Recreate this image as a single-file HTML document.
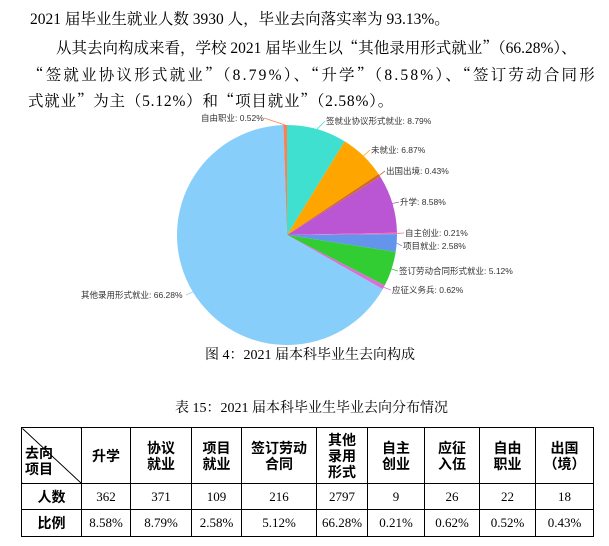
<!DOCTYPE html>
<html><head><meta charset="utf-8"><style>
body{margin:0;background:#fff;width:609px;height:546px;overflow:hidden;font-family:"Liberation Serif","Noto Serif CJK SC",serif;}
.t{position:absolute;font-size:15.5px;color:#000;white-space:nowrap;}
.q{font-family:"Noto Serif CJK SC",serif;}
svg{position:absolute;left:0;top:0}
table{position:absolute;left:21px;top:427px;border-collapse:collapse;font-size:13px;}
td{border:1px solid #000;text-align:center;padding:0;font-family:"Liberation Serif","Noto Serif CJK SC",serif;}
.h td{font-weight:bold;font-family:"Liberation Sans","Noto Sans CJK SC",sans-serif;font-size:14px;line-height:16px}
td.b{font-weight:bold;font-family:"Liberation Sans","Noto Sans CJK SC",sans-serif;font-size:14px}
</style></head><body>
<div class="t" style="left:30px;top:7px">2021 届毕业生就业人数 3930 人，毕业去向落实率为 93.13%。</div>
<div class="t" style="left:56px;top:36px">从其去向构成来看，学校 2021 届毕业生以<span class="q">“</span>其他录用形式就业<span class="q">”</span>（66.28%）、</div>
<div class="t" style="left:28px;top:63px;letter-spacing:2.2px"><span class="q">“</span>签就业协议形式就业<span class="q">”</span>（8.79%）、<span class="q">“</span>升学<span class="q">”</span>（8.58%）、<span class="q">“</span>签订劳动合同形</div>
<div class="t" style="left:28px;top:89px;letter-spacing:0.8px">式就业<span class="q">”</span>为主（5.12%）和<span class="q">“</span>项目就业<span class="q">”</span>（2.58%）。</div>
<svg id="s" width="609" height="546" font-family="Liberation Sans,Noto Sans CJK SC,sans-serif" font-size="8.5" fill="#333"></svg>
<div class="t" style="left:205px;top:344px;font-size:14px">图 4：2021 届本科毕业生去向构成</div>
<div class="t" style="left:175px;top:397px;font-size:14px">表 15：2021 届本科毕业生毕业去向分布情况</div>
<table>
<tr class="h" style="height:56px"><td style="width:59px;position:relative;background:linear-gradient(to top right,transparent 49.2%,#000 49.6%,#000 50.4%,transparent 50.8%)"><div style="text-align:left;padding-left:3px;padding-top:10px">去向<br>项目</div></td><td style="width:48px">升学</td><td style="width:60px">协议<br>就业</td><td style="width:49px">项目<br>就业</td><td style="width:74px">签订劳动<br>合同</td><td style="width:50px">其他<br>录用<br>形式</td><td style="width:56px">自主<br>创业</td><td style="width:54px">应征<br>入伍</td><td style="width:55px">自由<br>职业</td><td style="width:57px">出国<br>（境）</td></tr>
<tr style="height:26px"><td class="b">人数</td><td>362</td><td>371</td><td>109</td><td>216</td><td>2797</td><td>9</td><td>26</td><td>22</td><td>18</td></tr>
<tr style="height:27px"><td class="b">比例</td><td>8.58%</td><td>8.79%</td><td>2.58%</td><td>5.12%</td><td>66.28%</td><td>0.21%</td><td>0.62%</td><td>0.52%</td><td>0.43%</td></tr>
</table>
<script>
var s=document.getElementById('s'),cx=287,cy=235,r=110;
var d=[[8.79,'#40e0d0'],[6.87,'#ffa500'],[0.43,'#d2691e'],[8.58,'#ba55d3'],[0.21,'#ff69b4'],[2.58,'#6495ed'],[5.12,'#32cd32'],[0.62,'#da70d6'],[66.28,'#87cefa'],[0.52,'#ff7f50']];
var L=[[326,124,'签就业协议形式就业: 8.79%'],[371,153,'未就业: 6.87%'],[386,174,'出国出境: 0.43%'],[400,205,'升学: 8.58%'],[405,236,'自主创业: 0.21%'],[403,249,'项目就业: 2.58%'],[399,274,'签订劳动合同形式就业: 5.12%'],[392,293,'应征义务兵: 0.62%'],[81,298,'其他录用形式就业: 66.28%'],[201,121,'自由职业: 0.52%']];
var a=0,h='';
d.forEach(function(x,i){var a0=a*3.6*Math.PI/180;a+=x[0];var a1=a*3.6*Math.PI/180;var am=(a0+a1)/2;
var x0=cx+r*Math.sin(a0),y0=cy-r*Math.cos(a0),x1=cx+r*Math.sin(a1),y1=cy-r*Math.cos(a1);
h+='<path d="M'+cx+','+cy+'L'+x0+','+y0+'A'+r+','+r+' 0 '+(x[0]>50?1:0)+' 1 '+x1+','+y1+'Z" fill="'+x[1]+'"/>';
var ex=cx+r*Math.sin(am),ey=cy-r*Math.cos(am),l=L[i],tx,ty=l[1]-3;
if(l[0]>cx){tx=l[0]-1;}else{tx=l[0]+(l[2].length*8.3)+2;}
if(i==9)tx=264;if(i==8)tx=186;
h+='<path d="M'+ex+','+ey+'L'+tx+','+ty+'" stroke="'+x[1]+'" stroke-width="0.8" fill="none"/>';});
L.forEach(function(l){h+='<text x="'+l[0]+'" y="'+l[1]+'">'+l[2]+'</text>';});
s.innerHTML=h;
</script>
</body></html>
